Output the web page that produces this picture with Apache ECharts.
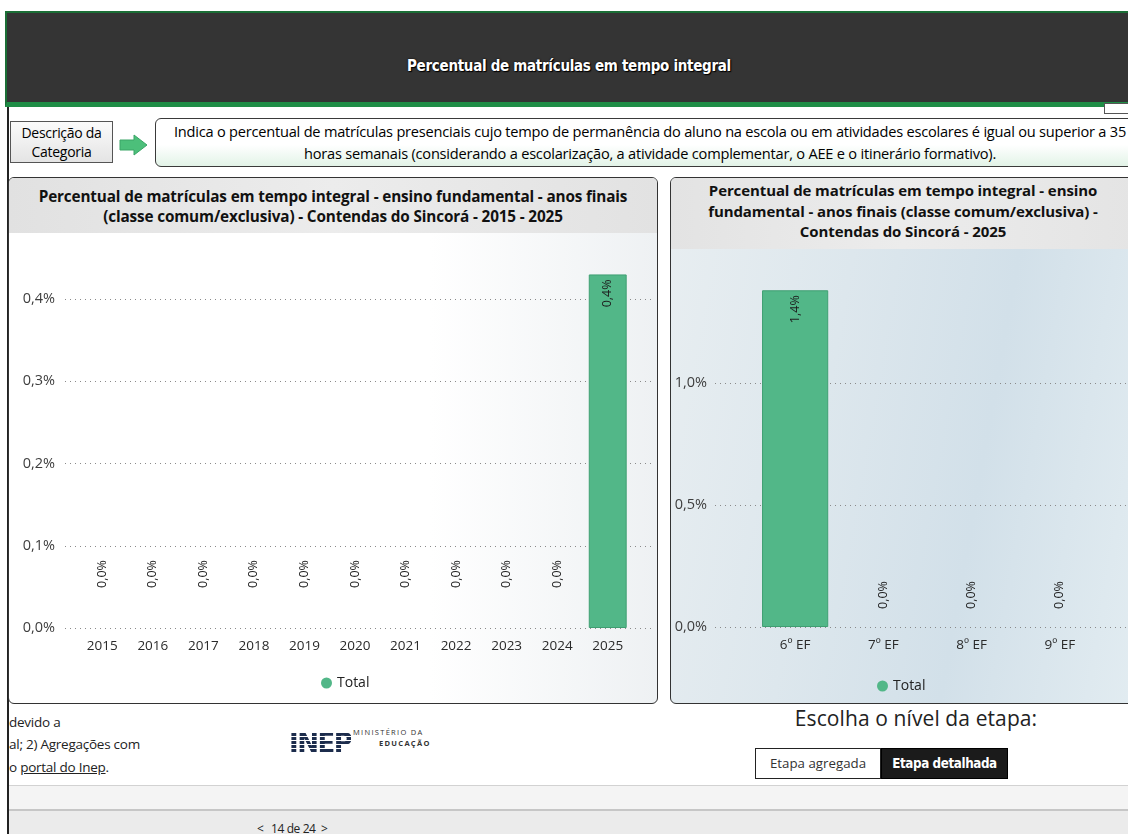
<!DOCTYPE html>
<html>
<head>
<meta charset="utf-8">
<script src="https://cdn.jsdelivr.net/npm/echarts@6/dist/echarts.min.js"></script>
<style>
  html, body { margin: 0; padding: 0; background: #fff; }
  #page { position: relative; width: 1128px; height: 834px; overflow: hidden; background: #fff; font-family: "Open Sans", "DejaVu Sans", sans-serif; color: #111; }
  .abs { position: absolute; }
  #header { left: 5px; top: 11px; width: 1130px; height: 89px; background: #343434; border-top: 2px solid #1b6e36; border-bottom: 5px solid #1f8d46; border-left: 2px solid #1b6e36; }
  #htitle { left: 0; top: 56px; width: 1138px; text-align: center; color: #fff; font-family: "DejaVu Sans Condensed", "DejaVu Sans", sans-serif; font-stretch: condensed; font-weight: bold; font-size: 15px; line-height: 20px; text-shadow: 0 0 2px #000, 1px 1px 1px #000; letter-spacing: -0.3px; }
  #leftline { left: 7px; top: 107px; width: 2px; height: 727px; background: #222; }
  #catbox { left: 10px; top: 121px; width: 103px; height: 42px; border: 1px solid #555; background: linear-gradient(#fbfbfb, #e4e4e4); text-align: center; font-size: 14px; line-height: 19px; padding-top: 1px; box-sizing: border-box; letter-spacing: -0.3px; color: #000; }
  #descbox { left: 155px; top: 118px; width: 990px; height: 49px; border: 1.5px solid #3a3a3a; border-radius: 6px; box-sizing: border-box; background: linear-gradient(#ffffff 55%, #e2f3e7); text-align: center; font-size: 14.6px; line-height: 22px; padding-top: 1px; white-space: nowrap; letter-spacing: -0.22px; color: #000; }
  .panel { border: 1.5px solid #333; border-radius: 6px; box-sizing: border-box; overflow: hidden; }
  #lpanel { left: 8px; top: 177px; width: 650px; height: 527px; background: linear-gradient(90deg, #ffffff 0%, #ffffff 65%, #eef1f3 100%); }
  #lband { left: 0; top: 0; width: 100%; height: 55px; background: linear-gradient(90deg, #e1e1e1, #ececec 50%, #e2e2e2); }
  #ltitle { left: 0; top: 9px; width: 100%; text-align: center; font-weight: bold; font-size: 15.3px; line-height: 19.5px; color: #111; letter-spacing: -0.15px; white-space: nowrap; }
  #rpanel { left: 670px; top: 177px; width: 466px; height: 527px; background: linear-gradient(100deg, #e8eef1 0%, #dde7ed 35%, #d2e0e9 65%, #e2ecf1 100%); }
  #rband { left: 0; top: 0; width: 100%; height: 71px; background: linear-gradient(90deg, #e3e3e3, #ececec 50%, #e4e4e4); }
  #rtitle { left: 0; top: 2px; width: 100%; text-align: center; font-weight: bold; font-size: 15px; line-height: 20.5px; color: #111; letter-spacing: -0.1px; white-space: nowrap; }
  .note { left: 9px; font-size: 13.5px; color: #222; white-space: nowrap; letter-spacing: -0.25px; }
  #inep { left: 289px; top: 729px; font-family: "DejaVu Sans", sans-serif; font-weight: bold; font-size: 26px; line-height: 28px; letter-spacing: -1.5px;
          background: repeating-linear-gradient(180deg, #1c2c4c 0px, #1c2c4c 3px, rgba(255,255,255,0) 3px, rgba(255,255,255,0) 4px);
          -webkit-background-clip: text; background-clip: text; color: transparent; }
  #mec1 { left: 353px; top: 727px; font-size: 7.5px; letter-spacing: 1.3px; color: #333; }
  #mec2 { left: 379px; top: 738px; font-size: 7.5px; font-weight: bold; letter-spacing: 1.3px; color: #333; }
  #escolha { left: 766px; top: 705px; width: 300px; text-align: center; font-size: 21px; line-height: 26px; color: #222; letter-spacing: 0.1px; }
  .btn { top: 748px; height: 31px; box-sizing: border-box; text-align: center; font-size: 13.3px; line-height: 29px; }
  #b1 { left: 755px; width: 126px; background: #fff; border: 1px solid #222; color: #333; }
  #b2 { left: 881px; width: 127px; background: #1b1b1b; border: 1px solid #000; color: #fff; font-family: "DejaVu Sans Condensed", "DejaVu Sans", sans-serif; font-stretch: condensed; font-weight: bold; letter-spacing: -0.4px; }
  #band1 { left: 9px; top: 785px; width: 1125px; height: 24px; background: #f4f4f4; border-top: 1px solid #d2d2d2; }
  #band2 { left: 9px; top: 809px; width: 1125px; height: 30px; background: #ebebeb; border-top: 2px solid #c6c6c6; }
  .nav { top: 820px; font-size: 12px; color: #222; white-space: nowrap; letter-spacing: -0.4px; }
  #chart { left: 0; top: 0; width: 1128px; height: 834px; }
</style>
</head>
<body>
<div id="page">
  <div id="header" class="abs"></div>
  <div id="htitle" class="abs">Percentual de matrículas em tempo integral</div>
  <div class="abs" style="left:1104px;top:103px;width:30px;height:9px;background:#fff;border:1px solid #555;"></div>
  <div id="leftline" class="abs"></div>
  <div id="catbox" class="abs">Descrição da<br>Categoria</div>
  <svg class="abs" style="left:119px;top:134px" width="30" height="22" viewBox="0 0 30 22">
    <polygon points="1,6 15,6 15,1 28,11 15,21 15,16 1,16" fill="#4cbf7a" stroke="#3aa566" stroke-width="1"/>
  </svg>
  <div id="descbox" class="abs">Indica o percentual de matrículas presenciais cujo tempo de permanência do aluno na escola ou em atividades escolares é igual ou superior a 35<br>horas semanais (considerando a escolarização, a atividade complementar, o AEE e o itinerário formativo).</div>

  <div id="lpanel" class="abs panel">
    <div id="lband" class="abs"></div>
    <div id="ltitle" class="abs">Percentual de matrículas em tempo integral - ensino fundamental - anos finais<br>(classe comum/exclusiva) - Contendas do Sincorá - 2015 - 2025</div>
  </div>
  <div id="rpanel" class="abs panel">
    <div id="rband" class="abs"></div>
    <div id="rtitle" class="abs">Percentual de matrículas em tempo integral - ensino<br>fundamental - anos finais (classe comum/exclusiva) -<br>Contendas do Sincorá - 2025</div>
  </div>

  <div class="abs note" style="top:713px">devido a</div>
  <div class="abs note" style="top:735px">al; 2) Agregações com</div>
  <div class="abs note" style="top:758px">o <span style="text-decoration:underline">portal do Inep</span>.</div>
  <div id="inep" class="abs">INEP</div>
  <div id="mec1" class="abs">MINISTÉRIO DA</div>
  <div id="mec2" class="abs">EDUCAÇÃO</div>
  <div id="escolha" class="abs">Escolha o nível da etapa:</div>
  <div id="b1" class="abs btn">Etapa agregada</div>
  <div id="b2" class="abs btn">Etapa detalhada</div>
  <div id="band1" class="abs"></div>
  <div id="band2" class="abs"></div>
  <div class="abs nav" style="left:257px">&lt;</div>
  <div class="abs nav" style="left:271px">14 de 24</div>
  <div class="abs nav" style="left:321px">&gt;</div>

  <div id="chart" class="abs"></div>
</div>
<script>
// ---- data ----
const years = ['2015', '2016', '2017', '2018', '2019', '2020', '2021', '2022', '2023', '2024', '2025'];
const pctByYear = [0, 0, 0, 0, 0, 0, 0, 0, 0, 0, 0.43];
const stages = ['6º EF', '7º EF', '8º EF', '9º EF'];
const pctByStage = [1.38, 0, 0, 0];
const leftAxisTicks = [0, 0.1, 0.2, 0.3, 0.4];
const rightAxisTicks = [0, 0.5, 1.0];
const seriesName = 'Total';

const fmt = v => v.toFixed(1).replace('.', ',') + '%';
const GREEN = '#52b788';
const FONT = '"Open Sans", "DejaVu Sans", sans-serif';

function items(vals, zeroDist) {
  return vals.map(v => v > 0
    ? { value: v, itemStyle: { borderColor: '#3f9f72', borderWidth: 1 },
        label: { position: 'insideTop', distance: 5, align: 'right', verticalAlign: 'middle' } }
    : { value: v, itemStyle: { borderWidth: 0 },
        label: { position: 'top', distance: zeroDist, align: 'left', verticalAlign: 'middle' } });
}

const labelBase = {
  show: true, rotate: 90, formatter: p => fmt(p.value), fontSize: 12.5, color: '#1e1e1e', fontFamily: FONT
};
const gridLine = { show: true, lineStyle: { color: '#8a8a8a', type: [1, 4], width: 1 } };
const yLabel = { color: '#3e3e3e', fontSize: 14.5, fontFamily: FONT, formatter: v => fmt(v) };
const xLabel = { color: '#2a2a2a', fontSize: 13.5, fontFamily: FONT, margin: 11 };
const legendText = { fontSize: 14, color: '#222', fontFamily: FONT };

const chart = echarts.init(document.getElementById('chart'), null, { renderer: 'canvas' });
chart.setOption({
  animation: false,
  grid: [
    { left: 65, right: 1128 - 652, top: 299, bottom: 834 - 628 },   // left: gridlines
    { left: 77, right: 1128 - 633, top: 258, bottom: 834 - 628 },   // left: bars
    { left: 715, right: 0, top: 383, bottom: 834 - 627 },           // right: gridlines
    { left: 751, right: 1128 - 1104, top: 261, bottom: 834 - 627 }  // right: bars
  ],
  legend: [
    { data: [seriesName], left: 316, top: 671, icon: 'circle', itemWidth: 11, itemHeight: 11, itemGap: 4,
      textStyle: legendText, selectedMode: false },
    { data: [seriesName], left: 872, top: 674, icon: 'circle', itemWidth: 11, itemHeight: 11, itemGap: 4,
      textStyle: legendText, selectedMode: false }
  ],
  xAxis: [
    { gridIndex: 0, type: 'value', show: false, min: 0, max: 1 },
    { gridIndex: 1, type: 'category', data: years, axisLine: { show: false }, axisTick: { show: false }, axisLabel: xLabel },
    { gridIndex: 2, type: 'value', show: false, min: 0, max: 1 },
    { gridIndex: 3, type: 'category', data: stages, axisLine: { show: false }, axisTick: { show: false }, axisLabel: xLabel }
  ],
  yAxis: [
    { gridIndex: 0, type: 'value', min: leftAxisTicks[0], max: leftAxisTicks[leftAxisTicks.length - 1], interval: 0.1,
      axisLine: { show: false }, axisTick: { show: false }, axisLabel: Object.assign({ margin: 10 }, yLabel), splitLine: gridLine },
    { gridIndex: 1, type: 'value', min: 0, max: 0.45, show: false, splitLine: { show: false } },
    { gridIndex: 2, type: 'value', min: rightAxisTicks[0], max: rightAxisTicks[rightAxisTicks.length - 1], interval: 0.5,
      axisLine: { show: false }, axisTick: { show: false }, axisLabel: Object.assign({ margin: 8 }, yLabel), splitLine: gridLine },
    { gridIndex: 3, type: 'value', min: 0, max: 1.5, show: false, splitLine: { show: false } }
  ],
  series: [
    { name: seriesName, type: 'bar', xAxisIndex: 1, yAxisIndex: 1, data: items(pctByYear, 40), barCategoryGap: '25%',
      itemStyle: { color: GREEN }, label: labelBase },
    { name: seriesName, type: 'bar', xAxisIndex: 3, yAxisIndex: 3, data: items(pctByStage, 18), barCategoryGap: '25%',
      itemStyle: { color: GREEN }, label: labelBase }
  ]
});
</script>
</body>
</html>
